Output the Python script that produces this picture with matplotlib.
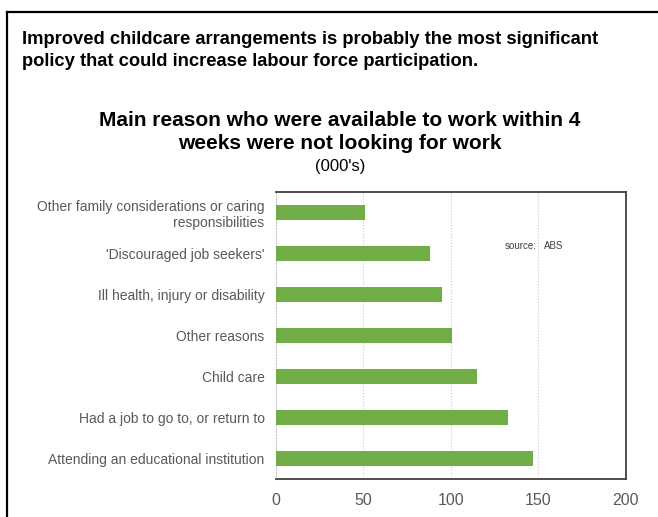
import matplotlib.pyplot as plt
from matplotlib.lines import Line2D

# Gründe (von oben nach unten) und Werte in Tausend
reasons = [
    'Other family considerations or caring\nresponsibilities',
    "'Discouraged job seekers'",
    'Ill health, injury or disability',
    'Other reasons',
    'Child care',
    'Had a job to go to, or return to',
    'Attending an educational institution',
]
values = [51, 88, 95, 101, 115, 133, 147]
xticks = [0, 50, 100, 150, 200]

grey = '#595959'
font = 'Liberation Sans'

fig = plt.figure(figsize=(6.58, 5.17), dpi=100)

# Rahmen links und oben
fig.add_artist(Line2D([6.5 / 658, 6.5 / 658], [0, 1 - 11.5 / 517], color='black', lw=1.6))
fig.add_artist(Line2D([6.5 / 658, 1], [1 - 11.5 / 517, 1 - 11.5 / 517], color='black', lw=1.6))

fig.text(22 / 658, 1 - 40 / 517,
         'Improved childcare arrangements is probably the most significant',
         fontsize=13.2, fontweight='bold', family=font, va='center')
fig.text(22 / 658, 1 - 62 / 517,
         'policy that could increase labour force participation.',
         fontsize=13.2, fontweight='bold', family=font, va='center')

fig.text(340 / 658, 1 - 120 / 517, 'Main reason who were available to work within 4',
         fontsize=15, fontweight='bold', family=font, ha='center', va='center')
fig.text(340 / 658, 1 - 143 / 517, 'weeks were not looking for work',
         fontsize=15, fontweight='bold', family=font, ha='center', va='center')
fig.text(340 / 658, 1 - 167 / 517, "(000's)",
         fontsize=12, family=font, ha='center', va='center')

ax = fig.add_axes([275.7 / 658, 38 / 517, 350 / 658, 287 / 517])
pos = list(range(len(reasons)))
ax.barh(pos, values, height=0.37, color='#70AD47', zorder=3)
ax.set_ylim(len(reasons) - 0.5, -0.5)
ax.set_xlim(0, 200)
ax.set_xticks(xticks)
ax.set_xticklabels([str(t) for t in xticks], fontsize=11.5, color=grey, family=font)
ax.set_yticks(pos)
ax.set_yticklabels(reasons, fontsize=10, color=grey, family=font, linespacing=1.15)
ax.tick_params(axis='both', length=0)
ax.tick_params(axis='x', pad=10)
ax.tick_params(axis='y', pad=8)

ax.grid(axis='x', color='#c8c8c8', linestyle=':', lw=0.8, zorder=0)
for side in ['top', 'right', 'bottom']:
    ax.spines[side].set_color('#404040')
    ax.spines[side].set_linewidth(1.3)
ax.spines['left'].set_color('#c8c8c8')
ax.spines['left'].set_linestyle(':')
ax.spines['left'].set_linewidth(0.8)

ax.text(0.744, 0.812, 'source:', transform=ax.transAxes, fontsize=7,
        color='#404040', family=font, ha='right', va='center')
ax.text(0.767, 0.812, 'ABS', transform=ax.transAxes, fontsize=7,
        color='#404040', family=font, ha='left', va='center')

fig.savefig('out.png', dpi=100)
